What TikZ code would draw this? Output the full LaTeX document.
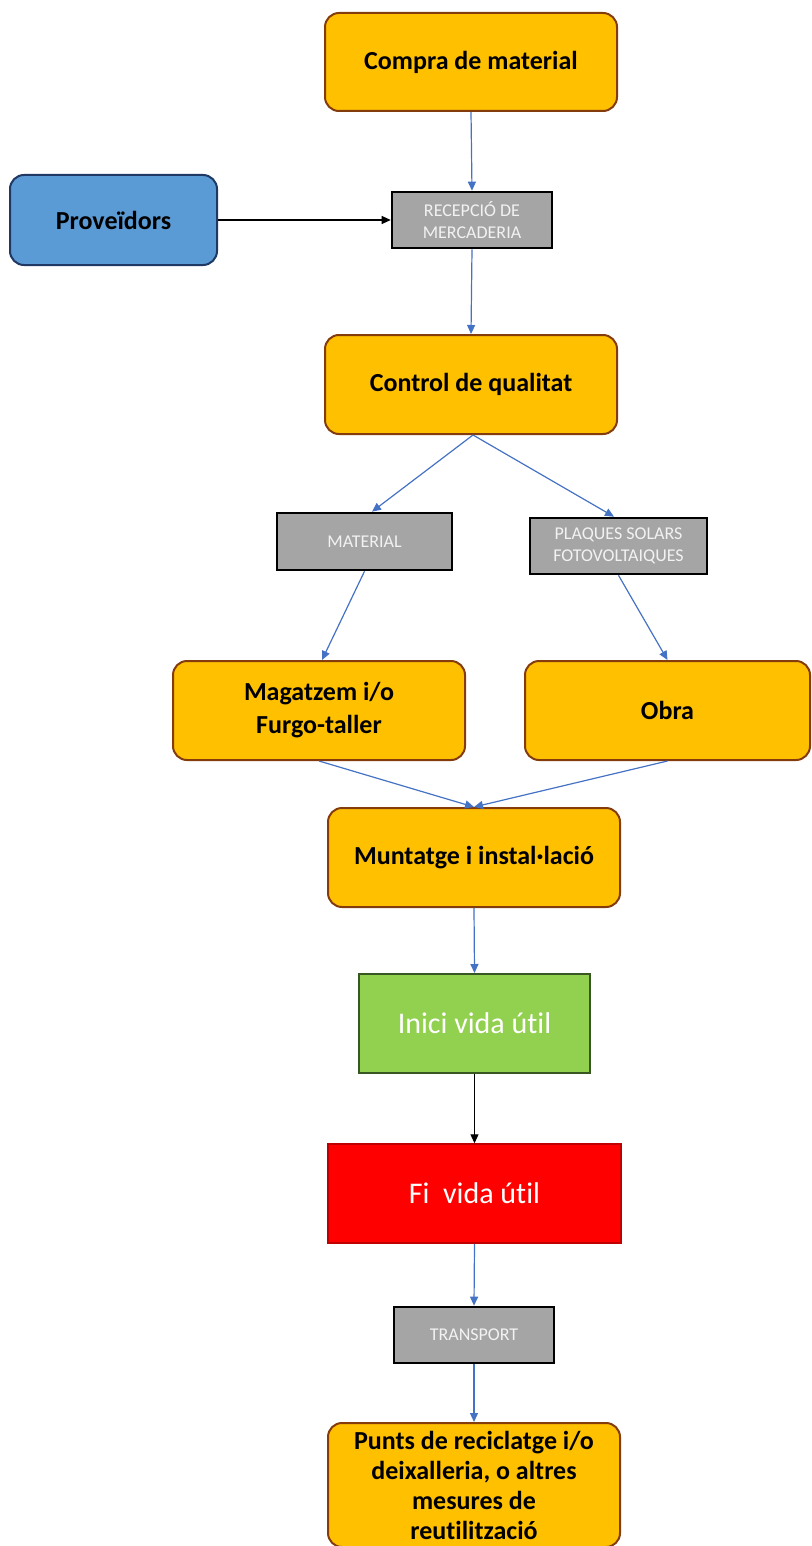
\documentclass[tikz,border=0pt]{standalone}
\usepackage{fontspec}
\setmainfont{Carlito}[Ligatures=NoCommon]
\usetikzlibrary{arrows.meta}

\definecolor{boxorange}{HTML}{FFC000}
\definecolor{edgebrown}{HTML}{843C0C}
\definecolor{boxblue}{HTML}{5B9BD5}
\definecolor{edgenavy}{HTML}{1F3864}
\definecolor{boxgray}{HTML}{A5A5A5}
\definecolor{textlight}{HTML}{F2F2F2}
\definecolor{boxgreen}{HTML}{92D050}
\definecolor{edgegreen}{HTML}{385723}
\definecolor{boxred}{HTML}{FF0000}
\definecolor{edgered}{HTML}{C00000}
\definecolor{flowblue}{HTML}{4472C4}

\tikzset{
  stage/.style={draw=edgebrown, fill=boxorange, line width=2pt,
    rounded corners=14pt, align=center, inner sep=0pt,
    font=\fontsize{26}{33}\selectfont\bfseries},
  supplier/.style={stage, draw=edgenavy, fill=boxblue},
  tag/.style={draw=black, fill=boxgray, line width=2.6pt, align=center,
    inner sep=0pt, text=textlight, font=\fontsize{18}{22}\selectfont},
  lifebox/.style={line width=2pt, align=center, inner sep=0pt,
    text=white, font=\fontsize{30}{36}\selectfont},
  flow/.style={draw=flowblue, line width=1.2pt,
    -{Triangle[length=9pt,width=8pt]}},
  blackflow/.style={flow, draw=black}
}

\begin{document}
\begin{tikzpicture}[x=1pt, y=-1pt]
  \useasboundingbox (0,0) rectangle (811,1546);

  % process boxes
  \node[stage, minimum width=292pt, minimum height=98pt] (compra) at (471,62) {Compra de material};
  \node[supplier, minimum width=207pt, minimum height=90pt] (prov) at (113.5,220) {Proveïdors};
  \node[tag, minimum width=160pt, minimum height=56pt] (recep) at (472,220) {RECEPCIÓ DE\\MERCADERIA};
  \node[stage, minimum width=292pt, minimum height=99pt] (ctrl) at (471,384.5) {Control de qualitat};
  \node[tag, minimum width=175pt, minimum height=57pt] (mat) at (364.5,541.5) {MATERIAL};
  \node[tag, minimum width=177pt, minimum height=56pt] (plaq) at (618.5,546) {PLAQUES SOLARS\\FOTOVOLTAIQUES};
  \node[stage, minimum width=292pt, minimum height=99pt] (mag) at (319,710.5) {Magatzem i/o\\Furgo-taller};
  \node[stage, minimum width=285pt, minimum height=99pt] (obra) at (667.5,710.5) {Obra};
  \node[stage, minimum width=292pt, minimum height=99pt] (munt) at (474,857.5) {Muntatge i instal·lació};
  \node[lifebox, draw=edgegreen, fill=boxgreen, minimum width=231pt, minimum height=99pt] (inici) at (474.5,1023.5) {Inici vida útil};
  \node[lifebox, line width=1.5pt, draw=edgered, fill=boxred, minimum width=293pt, minimum height=99pt] (fi) at (474.5,1193.5) {Fi\ \ vida útil};
  \node[tag, minimum width=160pt, minimum height=56pt] (transp) at (474,1335) {TRANSPORT};
  \node[stage, minimum width=292pt, minimum height=124pt,
        font=\fontsize{26}{30}\selectfont\bfseries] (punts) at (474,1485)
        {Punts de reciclatge i/o\\deixalleria, o altres\\mesures de\\reutilització};

  % connectors
  \draw[flow] (compra.south) -- (recep.north);
  \draw[blackflow] (prov.east) -- (recep.west);
  \draw[flow] (recep.south) -- (ctrl.north);
  \draw[flow] ([xshift=2pt]ctrl.south) -- ([xshift=7.5pt]mat.north);
  \draw[flow] ([xshift=2pt]ctrl.south) -- ([xshift=-4.5pt]plaq.north);
  \draw[flow] (mat.south) -- ([xshift=3pt]mag.north);
  \draw[flow] (plaq.south) -- (obra.north);
  \draw[flow] (mag.south) -- (munt.north);
  \draw[flow] (obra.south) -- (munt.north);
  \draw[flow] (munt.south) -- (inici.north);
  \draw[blackflow] (inici.south) -- (fi.north);
  \draw[flow] (fi.south) -- (transp.north);
  \draw[flow] (transp.south) -- (punts.north);
\end{tikzpicture}
\end{document}
